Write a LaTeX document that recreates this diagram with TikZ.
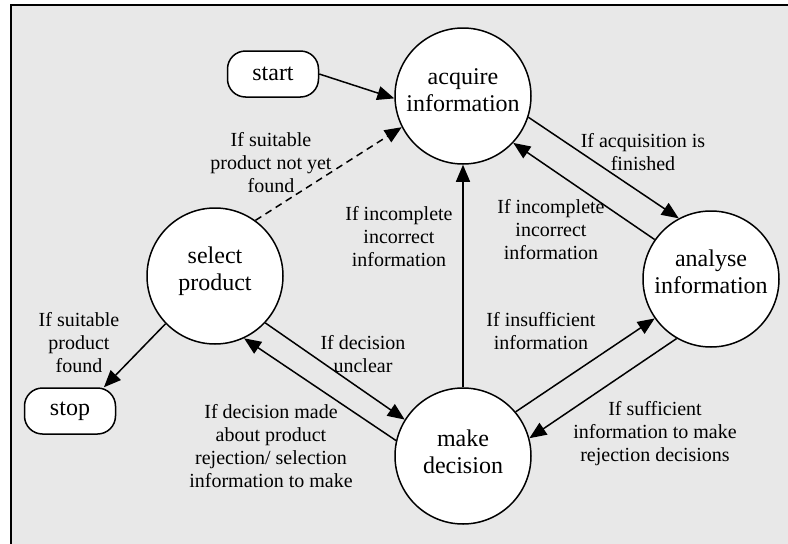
\documentclass[tikz,border=0pt]{standalone}
\usepackage{fontspec}
\setmainfont{Liberation Serif}
\usetikzlibrary{arrows.meta}
\definecolor{panel}{HTML}{E8E8E8}
\begin{document}
\begin{tikzpicture}[x=1pt,y=-1pt,
  state/.style={circle,draw,fill=white,line width=1.5pt,minimum size=136pt,inner sep=0pt},
  statetext/.style={align=center,font=\fontsize{24}{27}\selectfont,inner sep=0pt},
  terminal/.style={rectangle,rounded corners=18pt,draw,fill=white,line width=1.5pt,
    minimum width=91pt,minimum height=46pt,font=\fontsize{24}{27}\selectfont},
  cond/.style={align=center,font=\fontsize{20}{23}\selectfont,inner sep=1pt},
  link/.style={line width=1.5pt,-{Triangle[length=17pt,width=14pt]}},
  maybe/.style={link,dashed,dash pattern=on 7pt off 5pt}]
  \useasboundingbox (0,0) rectangle (788,544);
  % panel
  \fill[panel] (11,5) rectangle (788,544);
  \draw[line width=2pt] (11,544) -- (11,5) -- (788,5);

  % states
  \node[state] (acq) at (463,96) {};
  \node[state] (ana) at (711,279) {};
  \node[state] (mak) at (463,456) {};
  \node[state] (sel) at (215,276) {};
  \node[statetext] (acqt) at ([yshift=6pt]acq.center) {acquire\\information};
  \node[statetext] (anat) at ([yshift=7pt]ana.center) {analyse\\information};
  \node[statetext] (makt) at ([yshift=4pt]mak.center) {make\\decision};
  \node[statetext] (selt) at ([yshift=5pt]sel.center) {select\\product};

  % terminals
  \node[terminal] (start) at (273,74) {start};
  \node[terminal] (stop) at (70,411) {stop};

  % transitions
  \draw[link] (start.east) -- (acq.182);
  \draw[maybe] (sel.54) -- (acq.207);
  \draw[link] (acq.342) -- (ana.118);
  \draw[link] (ana.145) -- (acq.317);
  \draw[link] (mak.north) -- (acq.south);
  \draw[link] (mak.40) -- (ana.215);
  \draw[link] (ana.240) -- (mak.15);
  \draw[link] (sel.317) -- (mak.148);
  \draw[link] (mak.167) -- (sel.295);
  \draw[link] (sel.224) -- (stop.35);

  % conditions
  \node[cond] (c1) at (271,163) {If suitable\\product not yet\\found};
  \node[cond] (c2) at (399,237) {If incomplete\\incorrect\\information};
  \node[cond] (c3) at (643,152) {If acquisition is\\finished};
  \node[cond] (c4) at (551,230) {If incomplete\\incorrect\\information};
  \node[cond] (c5) at (541,331) {If insufficient\\information};
  \node[cond] (c6) at (655,434) {If sufficient\\information to make\\rejection decisions};
  \node[cond] (c7) at (363,354) {If decision\\unclear};
  \node[cond] (c8) at (271,446) {If decision made\\about product\\rejection/ selection\\information to make};
  \node[cond] (c9) at (79,343) {If suitable\\product\\found};
\end{tikzpicture}
\end{document}
